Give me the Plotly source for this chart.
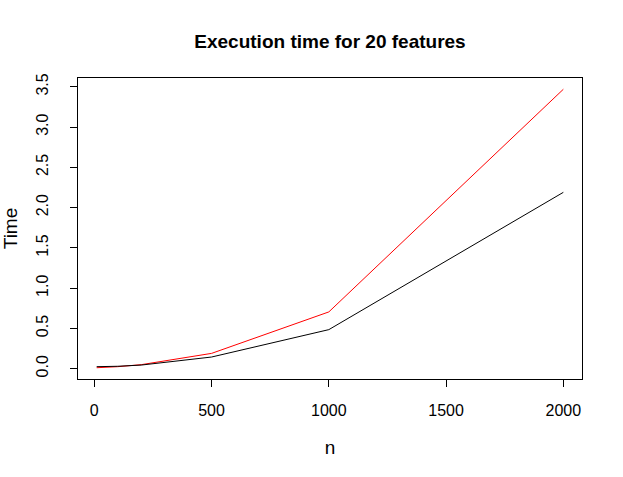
import plotly.graph_objects as go

n_values = [10, 100, 200, 500, 1000, 2000]
time_red = [0.012, 0.025, 0.05, 0.19, 0.705, 3.47]
time_black = [0.025, 0.03, 0.045, 0.145, 0.485, 2.19]

fig = go.Figure()
fig.add_trace(go.Scatter(x=n_values, y=time_red, mode="lines",
                         line=dict(color="red", width=1), showlegend=False))
fig.add_trace(go.Scatter(x=n_values, y=time_black, mode="lines",
                         line=dict(color="black", width=1), showlegend=False))

font = "Liberation Sans, Arial, sans-serif"
fig.update_layout(
    width=623, height=477,
    margin=dict(l=78, r=41, t=78, b=98, autoexpand=False),
    paper_bgcolor="white", plot_bgcolor="white",
    font=dict(family=font, size=16, color="black"),
    title=dict(text="<b>Execution time for 20 features</b>", xref="paper", x=0.5, xanchor="center",
               y=1 - 41 / 477, yanchor="middle", font=dict(size=19, family=font)),
    xaxis=dict(range=[-69.6, 2079.6], tickvals=[0, 500, 1000, 1500, 2000],
               ticks="outside", ticklen=7, tickcolor="black", showgrid=False, zeroline=False,
               showline=True, linecolor="black", linewidth=1, mirror=True,
               ticklabelstandoff=10, automargin=False,
               title=dict(text="n", standoff=22), tickfont=dict(size=16)),
    yaxis=dict(range=[-0.128, 3.61], tickvals=[0, 0.5, 1, 1.5, 2, 2.5, 3, 3.5],
               ticktext=["0.0", "0.5", "1.0", "1.5", "2.0", "2.5", "3.0", "3.5"],
               tickangle=-90, ticklabelstandoff=16, automargin=False,
               ticks="outside", ticklen=7, tickcolor="black", showgrid=False, zeroline=False,
               showline=True, linecolor="black", linewidth=1, mirror=True,
               title=dict(text="Time", standoff=15), tickfont=dict(size=16)),
)
fig.write_html("out.html")
